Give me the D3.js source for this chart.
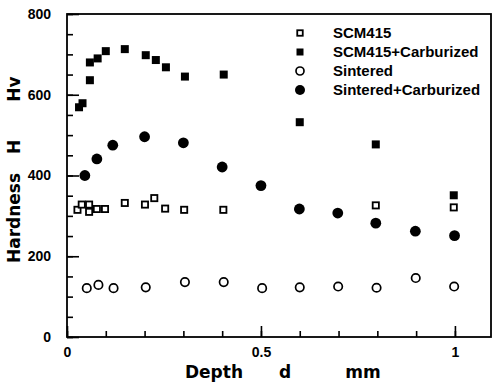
<!DOCTYPE html>
<html>
<head>
<meta charset="utf-8">
<script src="https://cdn.jsdelivr.net/npm/d3@7"></script>
<style>
  body { margin: 0; background: #fff; }
  svg text { fill: #000; }
</style>
</head>
<body>
<div id="viz"></div>
<script>
// data (depth in mm, hardness in Hv)
var scmX = [0.027, 0.038, 0.057, 0.057, 0.077, 0.098, 0.149, 0.201, 0.225, 0.253, 0.302, 0.403, 0.796, 0.997];
var scmY = [315, 328, 328, 310, 317, 317, 332, 328, 344, 318, 315, 315, 326, 321];

var scmCarbX = [0.031, 0.040, 0.059, 0.059, 0.079, 0.100, 0.149, 0.203, 0.229, 0.255, 0.304, 0.404, 0.600, 0.796, 0.997];
var scmCarbY = [569, 579, 636, 680, 690, 708, 713, 698, 686, 668, 645, 650, 532, 477, 351];

var sintX = [0.051, 0.081, 0.120, 0.203, 0.304, 0.404, 0.503, 0.600, 0.699, 0.798, 0.899, 0.998];
var sintY = [121, 129, 121, 123, 136, 136, 121, 123, 125, 122, 146, 125];

var sintCarbX = [0.046, 0.077, 0.118, 0.200, 0.300, 0.400, 0.500, 0.599, 0.698, 0.796, 0.898, 0.999];
var sintCarbY = [400, 441, 475, 496, 481, 421, 375, 317, 307, 282, 262, 251];

var seriesNames = ["SCM415", "SCM415+Carburized", "Sintered", "Sintered+Carburized"];

var xTicks = [0, 0.5, 1];
var xTickLabels = ["0", "0.5", "1"];
var yTicks = [0, 200, 400, 600, 800];
var yTickLabels = ["0", "200", "400", "600", "800"];

var width = 493, height = 383;
var margin = {top: 14, right: 2, bottom: 46, left: 67};

var svg = d3.select("#viz").append("svg")
    .attr("width", width)
    .attr("height", height);

var x = d3.scaleLinear()
    .domain([0, 1.093])
    .range([margin.left, width - margin.right]);

var y = d3.scaleLinear()
    .domain([0, 800])
    .range([height - margin.bottom, margin.top]);

var tickFont = "'Liberation Sans', Arial, sans-serif";

/* axes: minor ticks, then major ticks with labels, all pointing inward */

svg.append("g")
    .attr("transform", "translate(" + margin.left + ",0)")
    .call(d3.axisLeft(y).tickValues(d3.range(0, 801, 50)).tickSize(-6).tickFormat(""))
    .call(function(g) { g.select(".domain").remove(); });

svg.append("g")
    .attr("transform", "translate(" + margin.left + ",0)")
    .call(d3.axisLeft(y).tickValues(yTicks).tickSize(-12).tickPadding(16)
        .tickFormat(function(d, i) { return yTickLabels[i]; }))
    .call(function(g) { g.select(".domain").remove(); });

svg.append("g")
    .attr("transform", "translate(0," + y(0) + ")")
    .call(d3.axisBottom(x).tickValues(d3.range(0, 11).map(function(i) { return i / 10; })).tickSize(-6).tickFormat(""))
    .call(function(g) { g.select(".domain").remove(); });

svg.append("g")
    .attr("transform", "translate(0," + y(0) + ")")
    .call(d3.axisBottom(x).tickValues(xTicks).tickSize(-11).tickPadding(10)
        .tickFormat(function(d, i) { return xTickLabels[i]; }))
    .call(function(g) { g.select(".domain").remove(); });

svg.selectAll(".tick line").attr("stroke", "#000").attr("stroke-width", 1.6);
svg.selectAll(".tick text")
    .attr("font-family", tickFont)
    .attr("font-weight", "bold")
    .attr("font-size", 14)
    .attr("fill", "#000");

// frame
svg.append("rect")
    .attr("x", x(0))
    .attr("y", y(800))
    .attr("width", x(1.093) - x(0))
    .attr("height", y(0) - y(800))
    .attr("fill", "none")
    .attr("stroke", "#000")
    .attr("stroke-width", 1.8);

/* axis titles */

var titleFont = "'DejaVu Sans', sans-serif";

var xTitle = [["Depth", 214], ["d", 285], ["mm", 363]];
svg.selectAll(".xtitle")
    .data(xTitle)
    .enter()
    .append("text")
    .attr("class", "xtitle")
    .attr("x", function(d) { return d[1]; })
    .attr("y", 378)
    .attr("text-anchor", "middle")
    .attr("font-family", titleFont)
    .attr("font-weight", "bold")
    .attr("font-size", 17)
    .text(function(d) { return d[0]; });

var yTitle = [["Hardness", 218], ["H", 147], ["Hv", 89]];
svg.selectAll(".ytitle")
    .data(yTitle)
    .enter()
    .append("text")
    .attr("class", "ytitle")
    .attr("transform", function(d) { return "translate(20," + d[1] + ") rotate(-90)"; })
    .attr("text-anchor", "middle")
    .attr("font-family", titleFont)
    .attr("font-weight", "bold")
    .attr("font-size", 17)
    .text(function(d) { return d[0]; });

/* markers */

function openSquares(g, cx, cy, s) {
  g.append("rect")
      .attr("x", cx - s / 2).attr("y", cy - s / 2)
      .attr("width", s).attr("height", s)
      .attr("fill", "#fff").attr("stroke", "#000").attr("stroke-width", 1.8);
}
function filledSquares(g, cx, cy, s) {
  g.append("rect")
      .attr("x", cx - s / 2).attr("y", cy - s / 2)
      .attr("width", s).attr("height", s)
      .attr("fill", "#000");
}
function openCircles(g, cx, cy, r) {
  g.append("circle")
      .attr("cx", cx).attr("cy", cy).attr("r", r)
      .attr("fill", "#fff").attr("stroke", "#000").attr("stroke-width", 1.7);
}
function filledCircles(g, cx, cy, r) {
  g.append("circle")
      .attr("cx", cx).attr("cy", cy).attr("r", r)
      .attr("fill", "#000");
}

var marks = svg.append("g").attr("class", "marks");

sintX.forEach(function(d, i) { openCircles(marks, x(d), y(sintY[i]), 4.2); });
sintCarbX.forEach(function(d, i) { filledCircles(marks, x(d), y(sintCarbY[i]), 5.4); });
scmX.forEach(function(d, i) { openSquares(marks, x(d), y(scmY[i]), 6.2); });
scmCarbX.forEach(function(d, i) { filledSquares(marks, x(d), y(scmCarbY[i]), 8); });

/* legend */

var legend = svg.append("g").attr("class", "legend");
var legendY = [33, 52, 71, 90];
var legendDraw = [
  function(g, cy) { openSquares(g, 300, cy, 5.5); },
  function(g, cy) { filledSquares(g, 300, cy, 7); },
  function(g, cy) { openCircles(g, 300, cy, 4); },
  function(g, cy) { filledCircles(g, 300, cy, 5); }
];
seriesNames.forEach(function(name, i) {
  legendDraw[i](legend, legendY[i]);
  legend.append("text")
      .attr("x", 333)
      .attr("y", legendY[i] + 5)
      .attr("font-family", tickFont)
      .attr("font-weight", "bold")
      .attr("font-size", 15)
      .text(name);
});
</script>
</body>
</html>
